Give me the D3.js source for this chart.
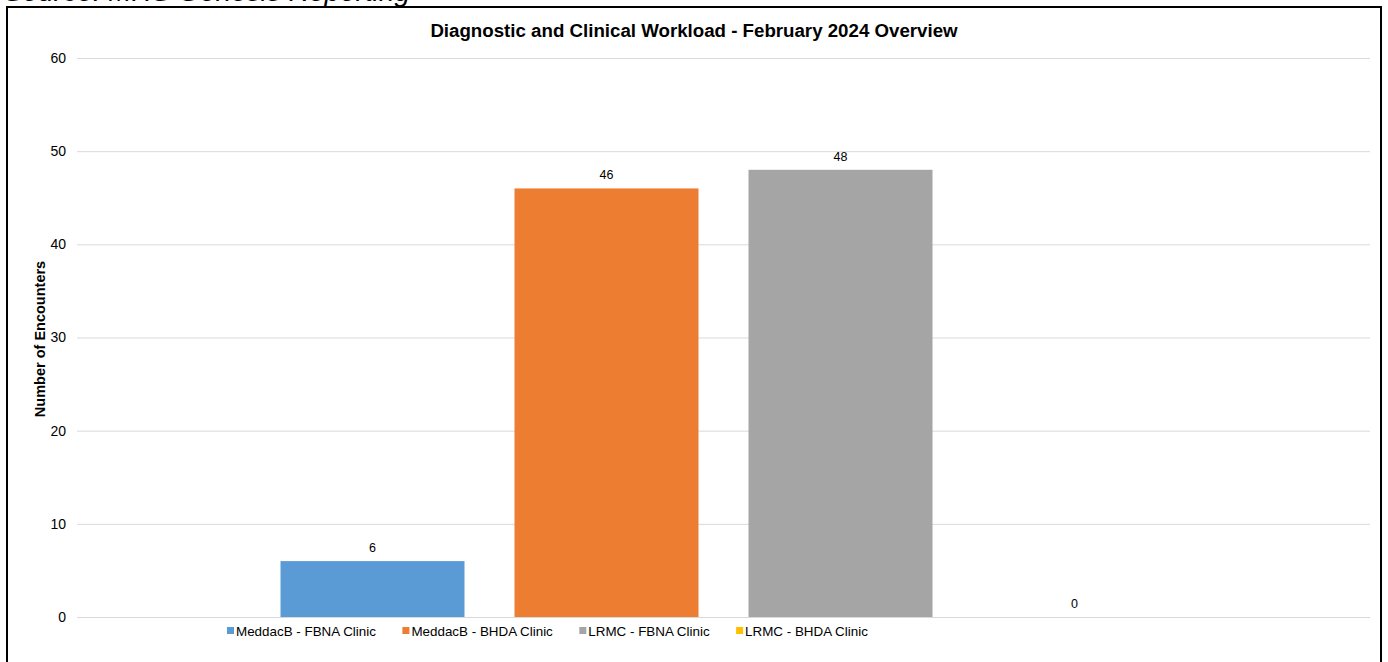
<!DOCTYPE html>
<html><head><meta charset="utf-8">
<script src="https://cdn.jsdelivr.net/npm/d3@7"></script>
<style>body{margin:0;background:#fff;overflow:hidden}svg{display:block}text{font-family:Arial,"Liberation Sans",sans-serif}</style>
</head><body>
<svg id="c" width="1388" height="662"></svg>
<script>
const chartTitle = "Diagnostic and Clinical Workload - February 2024 Overview";
const sourceNote = "Source: MHS Genesis Reporting";
const yTitle = "Number of Encounters";
const categories = ["February 2024"];
const seriesNames = ["MeddacB - FBNA Clinic", "MeddacB - BHDA Clinic", "LRMC - FBNA Clinic", "LRMC - BHDA Clinic"];
const seriesValues = [6, 46, 48, 0];
const seriesColors = ["#5B9BD5", "#ED7D31", "#A5A5A5", "#FFC000"];
const yTicks = [0, 10, 20, 30, 40, 50, 60];

const svg = d3.select("#c");
// source note, clipped at the top edge as in the reference screenshot
svg.append("text").attr("x", 4).attr("y", 0.5).attr("font-size", 28).attr("font-style", "italic")
  .attr("fill", "#000").text(sourceNote);
// frame
svg.append("rect").attr("x", 7).attr("y", 7).attr("width", 1374).attr("height", 700)
  .attr("fill", "#fff").attr("stroke", "#000").attr("stroke-width", 2);

const m = {l: 77, r: 1370, t: 58, b: 617};
const y = d3.scaleLinear().domain([0, 60]).range([m.b, m.t]);
const x0 = d3.scaleBand().domain(categories).range([m.l, m.r]).paddingInner(0).paddingOuter(0.2297);
const x1 = d3.scaleBand().domain(seriesNames).range([0, x0.bandwidth()]).paddingInner(50/234).paddingOuter(0);

// grid
const g = svg.append("g");
g.selectAll("line.grid").data(yTicks).join("line")
  .attr("x1", m.l).attr("x2", m.r).attr("y1", d => y(d) + 0.5).attr("y2", d => y(d) + 0.5)
  .attr("stroke", "#d9d9d9").attr("stroke-width", 1);

// y axis labels via d3 axis
const ya = svg.append("g").attr("transform", `translate(${m.l - 11},0)`)
  .call(d3.axisLeft(y).tickValues(yTicks).tickSize(0).tickPadding(0));
ya.select(".domain").remove();
ya.selectAll("text").attr("font-size", 14).attr("fill", "#000").attr("font-family", "Arial, 'Liberation Sans', sans-serif");

// bars
const cat = svg.append("g").selectAll("g").data(categories).join("g")
  .attr("transform", d => `translate(${x0(d)},0)`);
const items = seriesNames.map((n, i) => ({name: n, value: seriesValues[i], color: seriesColors[i]}));
cat.selectAll("rect").data(items).join("rect")
  .attr("x", d => x1(d.name)).attr("width", x1.bandwidth())
  .attr("y", d => y(d.value)).attr("height", d => y(0) - y(d.value))
  .attr("fill", d => d.color);
cat.selectAll("text.lbl").data(items).join("text").attr("class", "lbl")
  .attr("x", d => x1(d.name) + x1.bandwidth() / 2).attr("y", d => y(d.value) - 9)
  .attr("text-anchor", "middle").attr("font-size", 12.5).attr("fill", "#000")
  .text(d => d.value);

// title
svg.append("text").attr("x", 694).attr("y", 37).attr("text-anchor", "middle")
  .attr("font-size", 18.7).attr("font-weight", "bold").attr("fill", "#000").text(chartTitle);

// y title
svg.append("text").attr("transform", "translate(45,339) rotate(-90)").attr("text-anchor", "middle")
  .attr("font-size", 14.5).attr("font-weight", "bold").attr("fill", "#000").text(yTitle);

// legend
const lg = svg.append("g").attr("transform", "translate(227,631)");
let lx = 0;
items.forEach(d => {
  const it = lg.append("g").attr("transform", `translate(${lx},0)`);
  it.append("rect").attr("x", 0).attr("y", -4).attr("width", 7).attr("height", 7).attr("fill", d.color);
  const t = it.append("text").attr("x", 9).attr("y", 0).attr("dy", "0.35em").attr("font-size", 13.4)
    .attr("fill", "#000").text(d.name);
  lx += 9 + t.node().getComputedTextLength() + 26.5;
});
</script>
</body></html>
